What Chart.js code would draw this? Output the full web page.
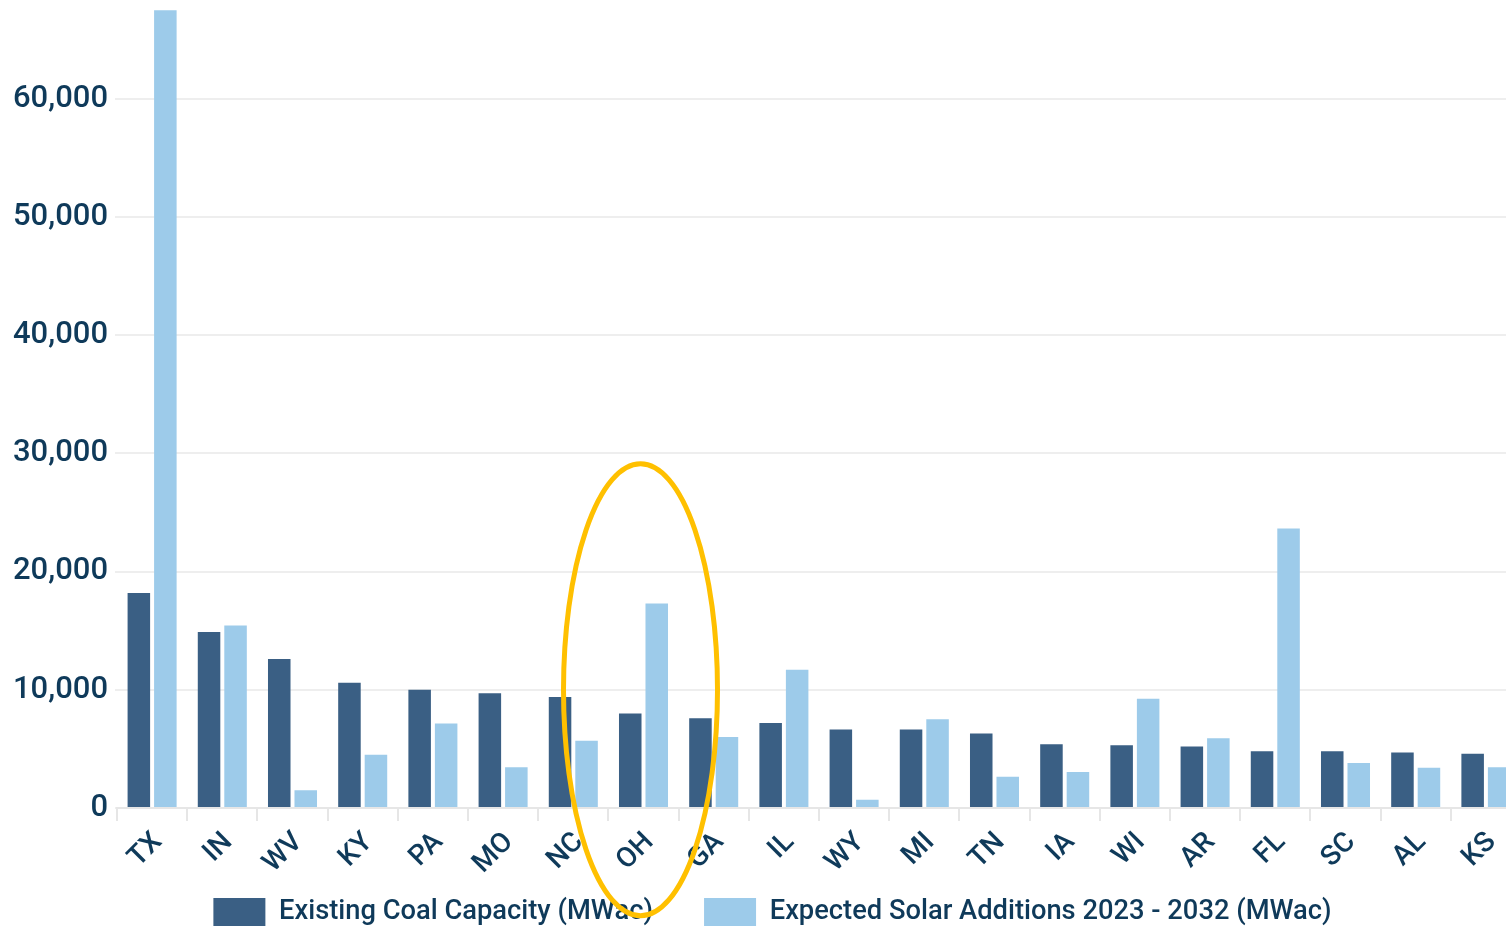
<!DOCTYPE html>
<html>
<head>
<meta charset="utf-8">
<script src="https://cdn.jsdelivr.net/npm/chart.js@4/dist/chart.umd.min.js"></script>
<style>
  html, body { margin: 0; padding: 0; background: #fff; overflow: hidden; }
  #wrap { position: absolute; left: 0; top: -45px; width: 1550px; height: 981px; }
</style>
</head>
<body>
<div id="wrap"><canvas id="grafico"></canvas></div>
<script>
const estados = ["TX", "IN", "WV", "KY", "PA", "MO", "NC", "OH", "GA", "IL", "WY", "MI", "TN", "IA", "WI", "AR", "FL", "SC", "AL", "KS"];
const carvao = [18200, 14900, 12600, 10600, 10000, 9700, 9400, 8000, 7600, 7200, 6650, 6650, 6300, 5400, 5300, 5200, 4800, 4800, 4700, 4600];
const solar = [67500, 15450, 1500, 4500, 7150, 3450, 5700, 17300, 6000, 11700, 700, 7500, 2650, 3050, 9250, 5900, 23650, 3800, 3400, 3450];
const ticksY = [0, 10000, 20000, 30000, 40000, 50000, 60000, 70000];
const nomes = ["Existing Coal Capacity (MWac)", "Expected Solar Additions 2023 - 2032 (MWac)"];
const destaque = "OH";

const azulEscuro = "#3a5f84";
const azulClaro = "#9dcbea";
const texto = "#0f3a5a";

// elipse amarela em volta do OH
const elipse = {
    id: "elipse",
    afterDraw(chart) {
        const x = chart.scales.x, y = chart.scales.y;
        const cx = x.getPixelForValue(estados.indexOf(destaque)) - 3;
        const cy = y.getPixelForValue(10000);
        const c = chart.ctx;
        c.save();
        c.beginPath();
        c.ellipse(cx, cy, 77, 226, 0, 0, Math.PI * 2);
        c.strokeStyle = "#ffc000";
        c.lineWidth = 5;
        c.stroke();
        c.restore();
    }
};

// empurra a legenda um pouco pra direita
const ajusteLegenda = {
    id: "ajusteLegenda",
    afterLayout(chart) {
        chart.legend.left += 12;
        chart.legend.right += 12;
    }
};

new Chart(document.getElementById("grafico"), {
    type: "bar",
    data: {
        labels: estados,
        datasets: [
            // espaços no fim pra abrir o vão entre os itens da legenda
            { label: nomes[0] + "    ", data: carvao, backgroundColor: azulEscuro },
            { label: nomes[1], data: solar, backgroundColor: azulClaro }
        ]
    },
    options: {
        responsive: true,
        maintainAspectRatio: false,
        animation: false,
        layout: { padding: { top: 20, right: 29, left: 0, bottom: 0 } },
        datasets: { bar: { barPercentage: 0.85, categoryPercentage: 0.755 } },
        plugins: {
            tooltip: { enabled: false },
            legend: {
                position: "bottom",
                labels: {
                    boxWidth: 52,
                    boxHeight: 28,
                    padding: 24,
                    color: texto,
                    font: { family: "Roboto", size: 27.3, weight: "500", lineHeight: 1.04 }
                }
            }
        },
        scales: {
            x: {
                grid: { drawOnChartArea: false, color: "#e6e6e6", lineWidth: 2, tickLength: 13 },
                border: { color: "#e6e6e6", width: 2 },
                ticks: {
                    color: texto,
                    maxRotation: 45,
                    minRotation: 45,
                    padding: 5,
                    labelOffset: 6,
                    font: { family: "Roboto", size: 28, weight: "500" }
                },
                afterFit: s => { s.height = 66; }
            },
            y: {
                min: 0,
                max: 70000,
                afterBuildTicks: s => { s.ticks = ticksY.map(v => ({ value: v })); },
                border: { display: false },
                grid: { color: "#eeeeee", lineWidth: 2, tickLength: 2 },
                ticks: {
                    color: texto,
                    padding: 7,
                    font: { family: "Roboto", size: 31, weight: "500" },
                    callback: v => v.toLocaleString("en-US")
                },
                afterFit: s => { s.width = 117; }
            }
        }
    },
    plugins: [elipse, ajusteLegenda]
});
</script>
</body>
</html>
